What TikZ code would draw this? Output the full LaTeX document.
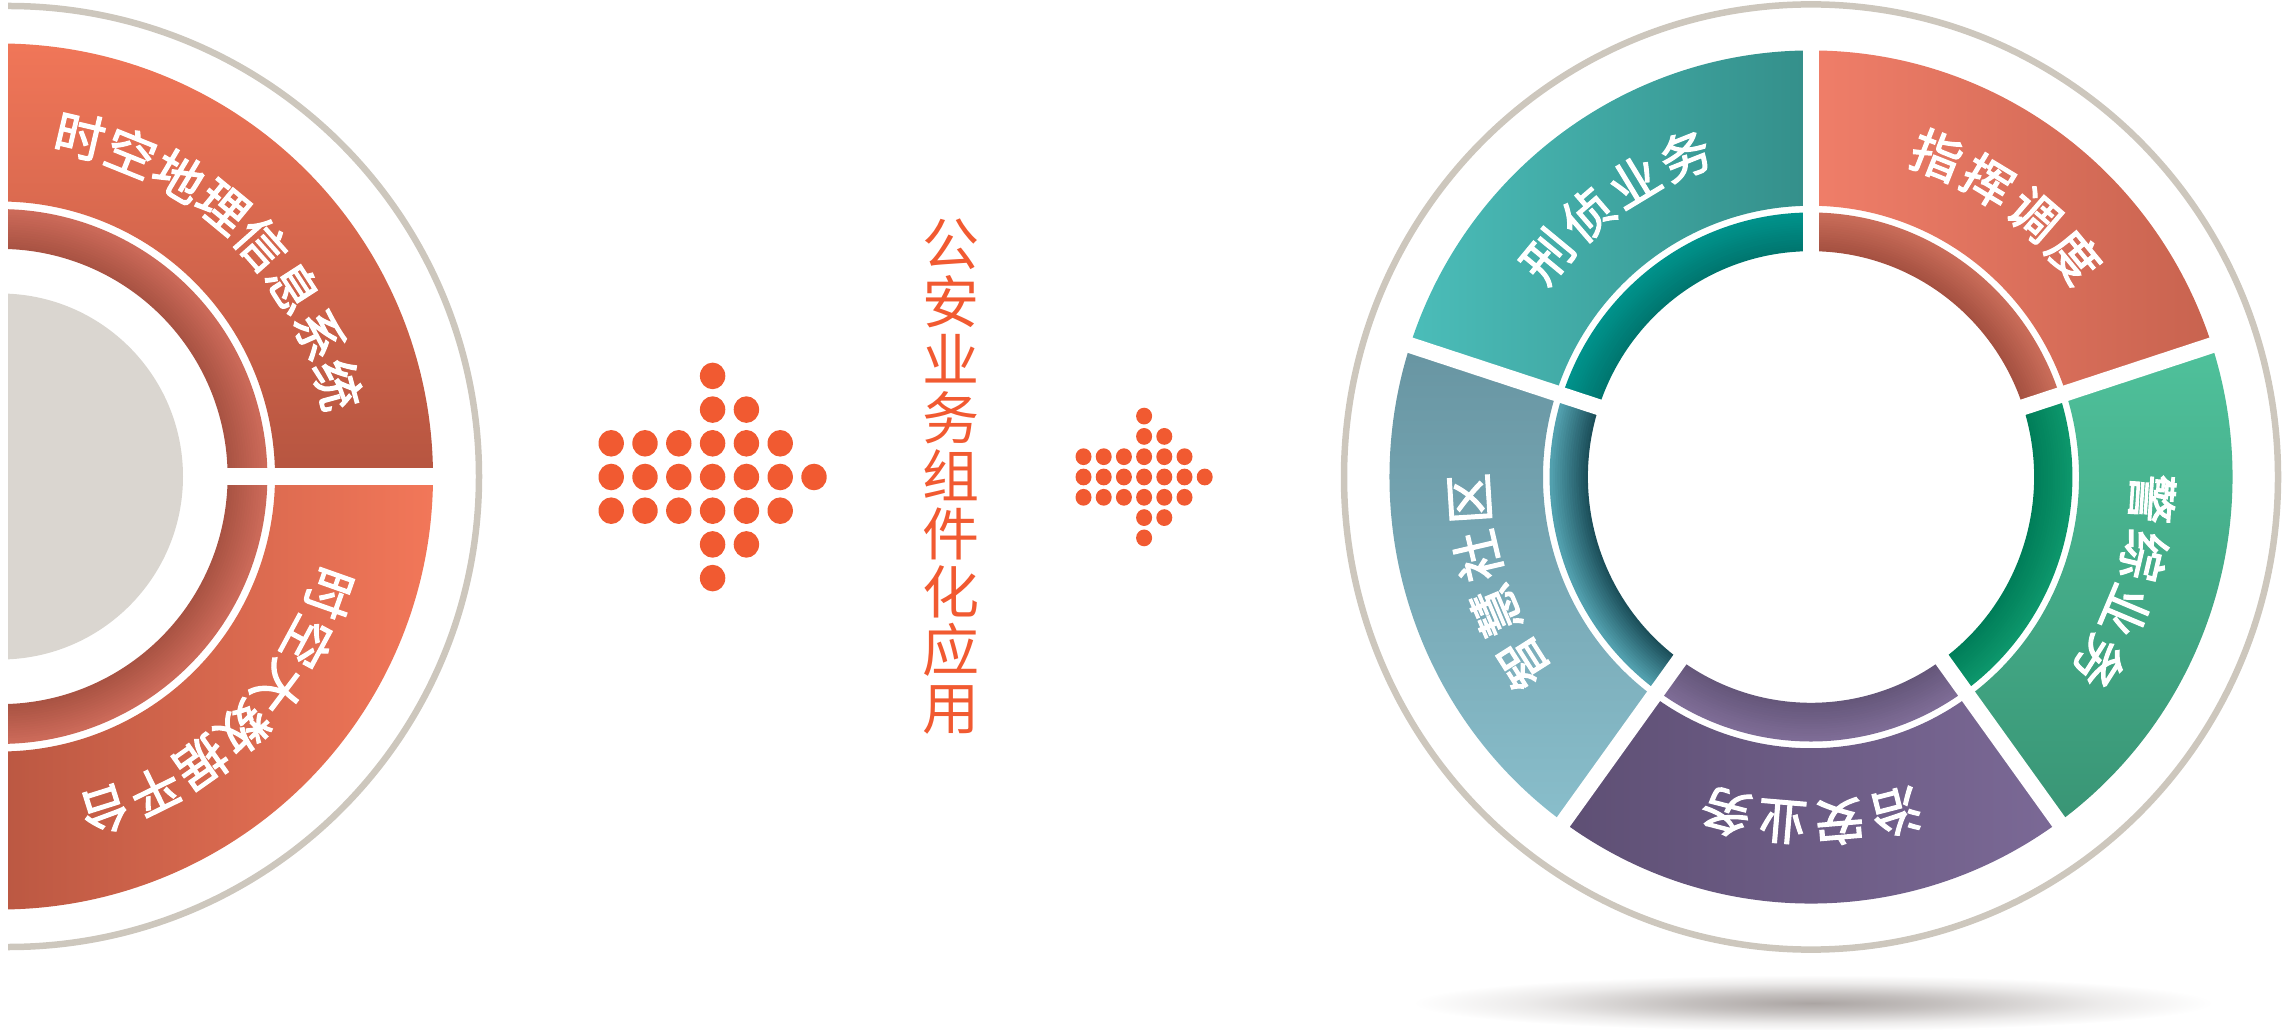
\documentclass[tikz,border=0pt]{standalone}
\usepackage{fontspec}
\newfontfamily\cjk{Noto Sans CJK SC}
\newfontfamily\cjkmed{Noto Sans CJK SC}[FakeBold=2.5]

% colours
\definecolor{ringgrey}{HTML}{CDC7BD}
\definecolor{diskgrey}{HTML}{DAD6D0}
\definecolor{dotorange}{HTML}{F15A31}
\definecolor{shadowgrey}{HTML}{ABA5A3}
\definecolor{lbandlight}{HTML}{F27759}
\definecolor{lbanddark}{HTML}{B65540}
\definecolor{ltubein}{HTML}{A95343}
\definecolor{ltubeout}{HTML}{CC6A59}
\definecolor{xzleft}{HTML}{4BBDB9}
\definecolor{xzright}{HTML}{348F8A}
\definecolor{xzin}{HTML}{00766F}
\definecolor{xzout}{HTML}{00928B}
\definecolor{zhleft}{HTML}{F07E69}
\definecolor{zhright}{HTML}{C8634F}
\definecolor{zhin}{HTML}{A55141}
\definecolor{zhout}{HTML}{C96C59}
\definecolor{jztop}{HTML}{4FC19B}
\definecolor{jzbottom}{HTML}{399575}
\definecolor{jzin}{HTML}{007E59}
\definecolor{jzout}{HTML}{0D966B}
\definecolor{zaleft}{HTML}{5E4F74}
\definecolor{zaright}{HTML}{7B6996}
\definecolor{zain}{HTML}{65577A}
\definecolor{zaout}{HTML}{7E6C96}
\definecolor{zstop}{HTML}{6895A2}
\definecolor{zsbottom}{HTML}{89BECB}
\definecolor{zsin}{HTML}{1C4F5A}
\definecolor{zsout}{HTML}{52A0AE}

\pgfdeclareradialshading{shadowfade}{\pgfpoint{0bp}{0bp}}{color(0bp)=(shadowgrey); color(8bp)=(shadowgrey!70!white); color(18bp)=(shadowgrey!22!white); color(25bp)=(white); color(50bp)=(white)}

\tikzset{
ringtext/.style = {text=white, inner sep=0pt,
  font=\cjkmed\fontsize{50}{50}\selectfont},
midtext/.style = {text=dotorange, align=center, inner sep=0pt,
  font=\cjk\fontsize{57}{58}\selectfont},
gapline/.style = {white, line width=16pt},
greyring/.style = {draw=ringgrey, line width=6.5pt}
}

% ring sector: inner r, outer r, start, end
\newcommand{\sectorpath}[4]{(#3:#1) arc[start angle=#3, end angle=#4, radius=#1] -- (#4:#2) arc[start angle=#4, end angle=#3, radius=#2] -- cycle}

% inner band with a tube look: inner r, outer r, start, end, inner colour, outer colour
\newcommand{\tubearc}[6]{%
\foreach \i in {0,...,15}{%
  \pgfmathsetmacro{\rr}{#1+(\i+0.5)*(#2-#1)/16}%
  \pgfmathtruncatemacro{\mix}{100-\i*100/15}%
  \draw[line width=(#2-#1)/16+0.8, #5!\mix!#6] (#3:\rr pt) arc[start angle=#3, end angle=#4, radius=\rr pt];
}}

% text along the ring, clockwise: name, radius, mid angle, step, count, chars
\newcommand{\arclabel}[6]{%
\foreach \ch [count=\k from 0] in {#6}{%
  \pgfmathsetmacro{\ang}{#3+(#5-1)/2*#4-\k*#4}%
  \node[ringtext, rotate=\ang-90] (#1-\k) at (\ang:#2 pt) {\ch};
}}

% arrow of dots: first column x, column step, row step, x radius, y radius
\newcommand{\dotarrow}[5]{%
\foreach \r/\n in {-1/6,0/7,1/6}{
  \foreach \c in {1,...,\n}
    \fill[dotorange] (#1+\c*#2-#2, 552-\r*#3) ellipse[x radius=#4 pt, y radius=#5 pt];
}
\foreach \c/\r in {4/-3,4/-2,5/-2,4/2,5/2,4/3}
  \fill[dotorange] (#1+\c*#2-#2, 552-\r*#3) ellipse[x radius=#4 pt, y radius=#5 pt];
}

\begin{document}
\begin{tikzpicture}[x=1pt,y=1pt]
\useasboundingbox (0,0) rectangle (2285,1029);

% shadow under the right wheel
\shade[shading=shadowfade] (1813,26) ellipse[x radius=400pt, y radius=28pt];

% left half wheel
\begin{scope}
\clip (8,0) rectangle (700,1029);
\begin{scope}[shift={(0,552.5)}]
\draw[greyring] (8.5,0) circle[radius=470.5pt];
\fill[diskgrey] (0,0) circle[radius=183pt];
\tubearc{228}{267}{-95}{95}{ltubein}{ltubeout}
\shade[top color=lbandlight, bottom color=lbanddark] \sectorpath{275pt}{433pt}{0}{95};
\shade[left color=lbanddark, right color=lbandlight] \sectorpath{275pt}{433pt}{-95}{0};
\draw[gapline, line width=17pt] (190,0) -- (445,0);
\arclabel{gis}{350}{46}{8.8}{8}{时,空,地,理,信,息,系,统}
\arclabel{bigdata}{350}{-46}{8.85}{7}{时,空,大,数,据,平,台}
\end{scope}
\end{scope}

% arrows and title
\dotarrow{611.2}{33.8}{33.7}{12.7}{13.3}
\dotarrow{1083.5}{20.2}{20.3}{8}{8.4}
\node[midtext] (title) at (950.5,552.5) {公\\安\\业\\务\\组\\件\\化\\应\\用};

% right wheel
\begin{scope}[shift={(1811,552)}, yscale=1.012]
\draw[greyring] (0,0) circle[radius=467pt];
\shade[left color=xzleft, right color=xzright] \sectorpath{268pt}{421.5pt}{90}{162};
\tubearc{223.5}{261}{90}{162}{xzin}{xzout}
\shade[left color=zhleft, right color=zhright] \sectorpath{268pt}{421.5pt}{18}{90};
\tubearc{223.5}{261}{18}{90}{zhin}{zhout}
\shade[top color=jztop, bottom color=jzbottom] \sectorpath{268pt}{421.5pt}{-54}{18};
\tubearc{223.5}{261}{-54}{18}{jzin}{jzout}
\shade[left color=zaleft, right color=zaright] \sectorpath{268pt}{421.5pt}{-126}{-54};
\tubearc{223.5}{261}{-126}{-54}{zain}{zaout}
\shade[top color=zstop, bottom color=zsbottom] \sectorpath{268pt}{421.5pt}{162}{234};
\tubearc{223.5}{261}{162}{234}{zsin}{zsout}
\foreach \a in {90,18,-54,-126,162}
  \draw[gapline] (\a:200pt) -- (\a:440pt);
\arclabel{xz}{342}{126}{9.6}{4}{刑,侦,业,务}
\arclabel{zh}{342}{54}{9.6}{4}{指,挥,调,度}
\arclabel{jz}{342}{-18}{9.6}{4}{警,综,业,务}
\arclabel{za}{342}{-90}{9.6}{4}{治,安,业,务}
\arclabel{zs}{342}{198}{9.6}{4}{智,慧,社,区}
\end{scope}
\end{tikzpicture}
\end{document}
